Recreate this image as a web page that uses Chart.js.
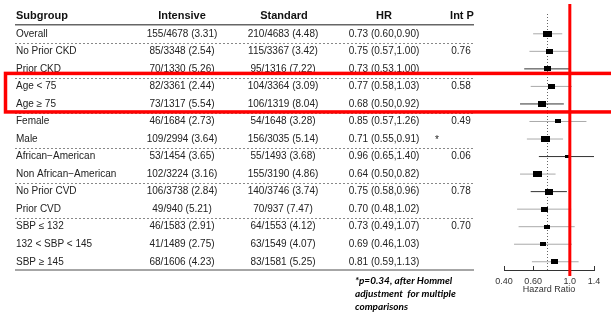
<!DOCTYPE html>
<html>
<head>
<meta charset="utf-8">
<script src="https://cdn.jsdelivr.net/npm/chart.js@4.4.1/dist/chart.umd.min.js"></script>
<style>
  body { margin: 0; background: #fff; }
</style>
</head>
<body>
<canvas id="forestChart" width="611" height="322"></canvas>
<script>
// Table columns
const subgroups = ['Overall', 'No Prior CKD', 'Prior CKD', 'Age < 75', 'Age \u2265 75', 'Female', 'Male',
    'African\u2212American', 'Non African\u2212American', 'No Prior CVD', 'Prior CVD',
    'SBP \u2264 132', '132 < SBP < 145', 'SBP \u2265 145'];
const intensive = ['155/4678 (3.31)', '85/3348 (2.54)', '70/1330 (5.26)', '82/3361 (2.44)', '73/1317 (5.54)',
    '46/1684 (2.73)', '109/2994 (3.64)', '53/1454 (3.65)', '102/3224 (3.16)', '106/3738 (2.84)',
    '49/940 (5.21)', '46/1583 (2.91)', '41/1489 (2.75)', '68/1606 (4.23)'];
const standard = ['210/4683 (4.48)', '115/3367 (3.42)', '95/1316 (7.22)', '104/3364 (3.09)', '106/1319 (8.04)',
    '54/1648 (3.28)', '156/3035 (5.14)', '55/1493 (3.68)', '155/3190 (4.86)', '140/3746 (3.74)',
    '70/937 (7.47)', '64/1553 (4.12)', '63/1549 (4.07)', '83/1581 (5.25)'];
const intP = ['', '0.76', '', '0.58', '', '0.49', '', '0.06', '', '0.78', '', '0.70', '', ''];
const starRows = [6];

// Hazard ratios and CIs
const hr = [0.73, 0.75, 0.73, 0.77, 0.68, 0.85, 0.71, 0.96, 0.64, 0.75, 0.70, 0.73, 0.69, 0.81];
const lo = [0.60, 0.57, 0.53, 0.58, 0.50, 0.57, 0.55, 0.65, 0.50, 0.58, 0.48, 0.49, 0.46, 0.59];
const hi = [0.90, 1.00, 1.00, 1.03, 0.92, 1.26, 0.91, 1.40, 0.82, 0.96, 1.02, 1.07, 1.03, 1.13];
const boxWidth = [9, 7, 7, 7, 8, 6, 9, 4, 9, 8, 7, 6, 6, 7];
const darkLine = [0, 0, 1, 0, 1, 0, 0, 1, 0, 1, 0, 0, 0, 0];

const groupEnds = [0, 2, 4, 6, 8, 10];
const highlightRows = [3, 4];
const overallHR = 0.73;
const xTicks = [0.4, 0.6, 1.0, 1.4];
const xTickLabels = ['0.40', '0.60', '1.0', '1.4'];
const footnote = ['*p=0.34, after Hommel', 'adjustment  for multiple', 'comparisons'];

const FONT = '"Liberation Sans", Arial, sans-serif';

function boxImage(w) {
    const c = document.createElement('canvas');
    c.width = w;
    c.height = Math.max(3, Math.round(w * 0.72));
    const g = c.getContext('2d');
    g.fillStyle = '#000';
    g.fillRect(0, 0, c.width, c.height);
    return c;
}

const ciData = [];
hr.forEach((v, i) => {
    ciData.push({ x: lo[i], y: i }, { x: hi[i], y: i }, { x: null, y: null });
});

const tablePlugin = {
    id: 'table',
    beforeDraw(chart) {
        const ctx = chart.ctx;
        ctx.save();
        ctx.fillStyle = '#fff';
        ctx.fillRect(0, 0, chart.width, chart.height);
        ctx.restore();
    },
    beforeDatasetsDraw(chart) {
        const { ctx, chartArea, scales: { x } } = chart;
        const px = Math.round(x.getPixelForValue(overallHR)) + 0.5;
        ctx.save();
        ctx.strokeStyle = '#666';
        ctx.lineWidth = 1;
        ctx.setLineDash([1, 2]);
        ctx.beginPath();
        ctx.moveTo(px, chartArea.top + 10);
        ctx.lineTo(px, chartArea.bottom);
        ctx.stroke();
        ctx.restore();
    },
    afterDraw(chart) {
        const { ctx, chartArea, scales: { x, y } } = chart;
        const row = i => y.getPixelForValue(i);
        const left = 15, right = 474;
        ctx.save();

        // header
        ctx.fillStyle = '#111';
        ctx.font = 'bold 11px ' + FONT;
        ctx.textBaseline = 'middle';
        const hy = row(0) - 17.5;
        ctx.textAlign = 'left';
        ctx.fillText('Subgroup', 16, hy);
        ctx.textAlign = 'center';
        ctx.fillText('Intensive', 182, hy);
        ctx.fillText('Standard', 284, hy);
        ctx.fillText('HR', 384, hy);
        ctx.fillText('Int P', 462, hy);

        ctx.strokeStyle = '#666';
        ctx.lineWidth = 1.4;
        ctx.beginPath();
        ctx.moveTo(left, hy + 8.5);
        ctx.lineTo(right, hy + 8.5);
        ctx.stroke();

        // rows
        ctx.font = '10px ' + FONT;
        ctx.fillStyle = '#222';
        subgroups.forEach((s, i) => {
            const ry = row(i);
            ctx.textAlign = 'left';
            ctx.fillText(s, 16, ry);
            ctx.textAlign = 'center';
            ctx.fillText(intensive[i], 182, ry);
            ctx.fillText(standard[i], 283, ry);
            ctx.fillText(`${hr[i].toFixed(2)} (${lo[i].toFixed(2)},${hi[i].toFixed(2)})`, 384, ry);
            if (intP[i]) ctx.fillText(intP[i], 461, ry);
            if (starRows.includes(i)) ctx.fillText('*', 437, ry + 1);
        });

        // separators
        ctx.strokeStyle = '#888';
        ctx.lineWidth = 1;
        ctx.setLineDash([2, 2]);
        groupEnds.forEach(g => {
            const sy = Math.round(row(g + 0.5)) + 0.5;
            ctx.beginPath();
            ctx.moveTo(left, sy);
            ctx.lineTo(right, sy);
            ctx.stroke();
        });
        ctx.setLineDash([]);
        ctx.strokeStyle = '#888';
        ctx.lineWidth = 1.5;
        ctx.beginPath();
        ctx.moveTo(left, chartArea.bottom);
        ctx.lineTo(right, chartArea.bottom);
        ctx.stroke();

        // upward tick marks on the HR axis
        ctx.strokeStyle = '#333';
        ctx.lineWidth = 1;
        xTicks.forEach(t => {
            const tx = Math.round(x.getPixelForValue(t)) + 0.5;
            ctx.beginPath();
            ctx.moveTo(tx, chartArea.bottom - 4);
            ctx.lineTo(tx, chartArea.bottom);
            ctx.stroke();
        });

        // footnote
        ctx.fillStyle = '#000';
        ctx.font = 'italic bold 10px Lato, "Open Sans", sans-serif';
        ctx.textAlign = 'left';
        footnote.forEach((t, i) => ctx.fillText(t, 355, 281 + i * 13));

        // reference line at HR = 1
        const rx = x.getPixelForValue(1.0);
        ctx.strokeStyle = '#ff0000';
        ctx.lineWidth = 3;
        ctx.beginPath();
        ctx.moveTo(rx, chartArea.top);
        ctx.lineTo(rx, chartArea.bottom + 6);
        ctx.stroke();

        // highlight box
        const top = row(highlightRows[0]) - 13;
        const bot = row(highlightRows[highlightRows.length - 1]) + 8;
        ctx.lineWidth = 3.5;
        ctx.strokeRect(5.5, top, 700, bot - top);
        ctx.restore();
    }
};

new Chart(document.getElementById('forestChart'), {
    type: 'scatter',
    data: {
        datasets: [
            {
                data: hr.map((v, i) => ({ x: v, y: i })),
                pointStyle: boxWidth.map(boxImage),
                pointRadius: 4,
                backgroundColor: '#000',
                borderWidth: 0
            },
            {
                data: ciData,
                showLine: true,
                pointRadius: 0,
                borderWidth: 1,
                borderColor: '#999',
                spanGaps: false,
                segment: {
                    borderColor: c => darkLine[Math.floor(c.p0DataIndex / 3)] ? '#333' : '#aaa'
                }
            }
        ]
    },
    options: {
        responsive: false,
        animation: false,
        events: [],
        layout: { padding: { left: 504, right: 17, top: 3, bottom: 27.5 } },
        plugins: { legend: { display: false }, tooltip: { enabled: false } },
        scales: {
            x: {
                type: 'logarithmic',
                min: 0.4,
                max: 1.4,
                afterBuildTicks: s => { s.ticks = xTicks.map(v => ({ value: v })); },
                grid: { display: false, drawTicks: false, tickLength: 0 },
                border: { display: true, color: '#333', width: 1 },
                ticks: {
                    autoSkip: false,
                    maxRotation: 0,
                    padding: 7,
                    color: '#333',
                    font: { family: FONT, size: 9, lineHeight: 1 },
                    callback: (v, i) => xTickLabels[i]
                },
                title: {
                    display: true,
                    text: 'Hazard Ratio',
                    color: '#333',
                    padding: { top: -7.5, bottom: 0 },
                    font: { family: FONT, size: 9, lineHeight: 1 }
                }
            },
            y: {
                type: 'linear',
                display: false,
                reverse: true,
                min: -1.7,
                max: 13.47
            }
        }
    },
    plugins: [tablePlugin]
});
</script>
</body>
</html>
